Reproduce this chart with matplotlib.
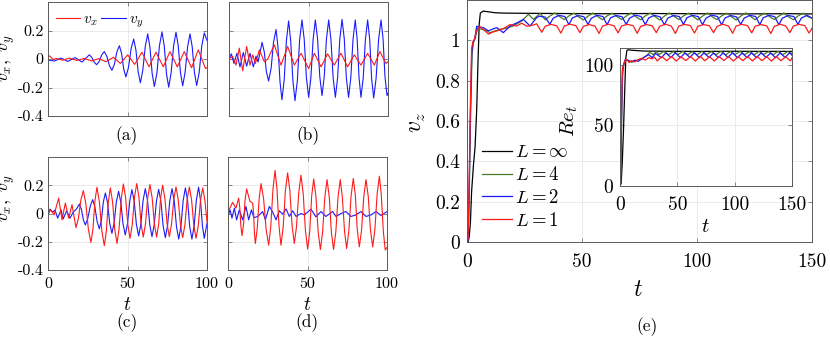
import matplotlib.pyplot as plt

plt.rcParams['mathtext.fontset'] = 'cm'
plt.rcParams['font.family'] = 'cmr10'
plt.rcParams['axes.formatter.use_mathtext'] = True

W, H = 830, 338

# ---- panel (a) ----
ta_vx = [0, 0.9, 3.5, 5.0, 9.2, 13.4, 18.2, 22.8, 27.5, 31.9, 36.5, 41.1, 45.5, 50.1, 54.5,
         59.1, 63.5, 67.9, 72.5, 76.7, 81.3, 85.7, 90.3, 94.5, 99.1, 100]
vx_a = [0.012, 0.022, -0.005, 0.004, -0.008, 0.006, -0.010, 0.004, -0.014, 0.003, -0.019, 0.012,
        -0.031, 0.029, -0.038, 0.048, -0.055, 0.048, -0.055, 0.052, -0.055, 0.052, -0.062, 0.064,
        -0.067, -0.06]
ta_vy = [0, 4.0, 8.2, 12.4, 17.0, 21.4, 26.0, 27.5, 29.1, 30.6, 32.2, 33.8, 35.4, 37.0, 38.6,
         40.2, 41.8, 43.3, 44.9, 46.3, 47.6, 49.0, 50.6, 52.3, 53.9, 55.3, 56.7, 58.1, 59.6, 61.2,
         62.7, 64.1, 65.5, 66.9, 68.5, 70.1, 71.7, 73.1, 74.5, 75.9, 77.4, 79.0, 80.5, 81.9, 83.3,
         84.7, 86.2, 87.8, 89.3, 90.7, 92.1, 93.5, 95.1, 96.7, 98.3, 100]
vy_a = [-0.007, -0.014, 0.007, -0.017, 0.010, -0.021, 0.029, 0.012, -0.023, -0.040, -0.017, 0.029,
        0.052, 0.019, -0.046, -0.079, -0.036, 0.050, 0.093, 0.038, -0.071, -0.126, -0.060, 0.074,
        0.140, 0.063, -0.090, -0.167, -0.081, 0.090, 0.176, 0.084, -0.101, -0.193, -0.097, 0.094,
        0.190, 0.093, -0.101, -0.198, -0.100, 0.092, 0.188, 0.094, -0.094, -0.188, -0.097, 0.085,
        0.176, 0.086, -0.096, -0.186, -0.094, 0.091, 0.183, 0.13]

# ---- panel (b) ----
tb_vx = [0, 2.3, 4.4, 6.5, 8.6, 11.1, 13.2, 14.9, 16.6, 19.1, 22.2, 24.3, 28.5, 32.7, 36.9, 41.1,
         45.3, 50.1, 53.7, 57.9, 62.0, 66.2, 70.4, 74.6, 78.8, 83.0, 87.2, 91.4, 94.9, 98.7, 100]
vx_b = [0.0, 0.017, -0.043, 0.076, -0.083, 0.088, -0.043, 0.029, -0.031, 0.064, -0.019, -0.002,
        0.100, -0.043, 0.088, -0.043, 0.040, -0.067, 0.040, -0.055, 0.036, -0.043, 0.040, -0.055,
        0.029, -0.043, 0.040, -0.043, 0.052, -0.031, -0.019]
tb_vy = [0, 1.5, 3.1, 5.0, 6.9, 9.0, 11.1, 13.2, 15.3, 17.0, 18.3, 20.8, 22.2, 23.5, 24.9, 26.5,
         28.0, 29.6, 30.8, 32.1, 33.3, 34.7, 36.1, 37.5, 38.8, 40.2, 41.5, 43.0, 44.4, 45.9, 47.3,
         48.7, 50.1, 51.5, 52.9, 54.3, 55.7, 57.1, 58.5, 59.9, 61.3, 62.7, 64.1, 65.5, 66.9, 68.3,
         69.7, 71.1, 72.5, 73.8, 75.2, 76.6, 78.0, 79.4, 80.6, 81.8, 83.0, 84.4, 85.8, 87.2, 88.5,
         89.7, 91.0, 92.5, 94.1, 95.6, 96.9, 98.1, 99.4, 100]
vy_b = [-0.002, 0.036, -0.031, 0.040, -0.055, 0.045, -0.050, 0.040, -0.055, 0.020, -0.020,
        0.117, 0.049, -0.087, -0.155, -0.065, 0.117, 0.207, 0.084, -0.163, -0.286, -0.148, 0.129,
        0.267, 0.127, -0.153, -0.293, -0.151, 0.132, 0.274, 0.138, -0.133, -0.269, -0.133, 0.138,
        0.274, 0.141, -0.124, -0.257, -0.124, 0.141, 0.274, 0.138, -0.133, -0.269, -0.132, 0.141,
        0.278, 0.141, -0.132, -0.269, -0.133, 0.138, 0.274, 0.138, -0.133, -0.269, -0.133, 0.138,
        0.274, 0.137, -0.137, -0.274, -0.137, 0.137, 0.274, 0.141, -0.124, -0.257, -0.24]

# ---- panel (c) ----
tc_vx = [0, 1.7, 3.8, 6.7, 8.8, 10.9, 13.0, 15.1, 17.6, 19.1, 20.7, 22.2, 23.8, 25.4, 27.0, 28.3,
         29.5, 30.8, 32.3, 33.9, 35.4, 36.7, 37.9, 39.2, 40.6, 42.0, 43.4, 44.7, 46.1, 47.4, 48.8,
         50.2, 51.6, 53.0, 54.4, 55.8, 57.2, 58.5, 59.9, 61.3, 62.7, 64.1, 65.5, 66.9, 68.3, 69.6,
         70.8, 72.1, 73.5, 74.9, 76.3, 77.7, 79.1, 80.5, 81.9, 83.3, 84.7, 86.1, 87.5, 88.9, 90.3,
         91.7, 93.1, 94.5, 95.9, 97.3, 98.7, 100]
vx_c = [-0.005, 0.026, -0.010, 0.109, -0.045, 0.074, -0.033, 0.062, -0.100, -0.035, 0.097, 0.162,
        0.070, -0.113, -0.205, -0.107, 0.088, 0.186, 0.083, -0.125, -0.228, -0.126, 0.079, 0.181,
        0.083, -0.114, -0.212, -0.107, 0.104, 0.209, 0.113, -0.080, -0.176, -0.079, 0.115, 0.212,
        0.117, -0.072, -0.167, -0.074, 0.112, 0.205, 0.112, -0.074, -0.167, -0.075, 0.108, 0.200,
        0.109, -0.073, -0.164, -0.076, 0.100, 0.188, 0.098, -0.081, -0.171, -0.081, 0.098, 0.188,
        0.097, -0.085, -0.176, -0.087, 0.092, 0.181, 0.092, -0.06]
tc_vy = [0, 1.3, 2.9, 4.4, 6.1, 8.2, 9.6, 11.7, 13.8, 15.9, 18.0, 19.7, 21.0, 22.2, 23.5, 25.0,
         26.6, 28.1, 29.5, 30.9, 32.3, 33.6, 34.8, 36.1, 37.5, 38.8, 40.2, 41.6, 43.0, 44.4, 45.8,
         47.2, 48.6, 50.0, 51.4, 52.8, 54.2, 55.6, 57.0, 58.4, 59.8, 61.2, 62.6, 64.0, 65.4, 66.8,
         68.2, 69.6, 71.0, 72.4, 73.8, 75.2, 76.6, 78.0, 79.4, 80.8, 82.2, 83.6, 85.0, 86.4, 87.8,
         89.1, 90.5, 91.9, 93.3, 94.7, 95.9, 97.1, 98.3, 100]
vy_c = [-0.010, 0.031, 0.010, 0.024, -0.033, 0.026, -0.038, 0.019, -0.033, 0.010, 0.033, 0.067,
        0.030, -0.044, -0.081, -0.036, 0.053, 0.098, 0.046, -0.057, -0.109, -0.046, 0.082, 0.145,
        0.074, -0.069, -0.140, -0.066, 0.083, 0.157, 0.080, -0.075, -0.152, -0.072, 0.089, 0.169,
        0.087, -0.077, -0.159, -0.075, 0.092, 0.176, 0.091, -0.079, -0.164, -0.080, 0.087, 0.171,
        0.086, -0.086, -0.171, -0.084, 0.089, 0.176, 0.087, -0.092, -0.181, -0.091, 0.091, 0.181,
        0.091, -0.091, -0.181, -0.089, 0.094, 0.186, 0.096, -0.086, -0.176, -0.07]

# ---- panel (d) ----
td_vx = [0, 2.9, 5.0, 6.7, 7.4, 8.1, 8.8, 9.8, 10.7, 11.7, 13.8, 15.5, 16.1, 16.6, 17.2, 18.4,
         19.6, 20.8, 22.4, 24.0, 25.6, 26.9, 28.3, 29.6, 30.8, 32.1, 33.3, 34.7, 36.1, 37.5, 38.9,
         40.3, 41.7, 43.1, 44.5, 45.9, 47.3, 48.7, 50.1, 51.4, 52.6, 53.9, 55.3, 56.7, 58.1, 59.5,
         60.9, 62.3, 63.7, 65.0, 66.4, 67.8, 69.2, 70.6, 71.9, 73.3, 74.6, 76.0, 77.4, 78.8, 80.1,
         81.3, 82.6, 84.0, 85.4, 86.8, 88.2, 89.6, 91.0, 92.4, 93.8, 95.2, 96.4, 97.7, 98.9, 100]
vx_d = [0.010, 0.079, 0.038, 0.109, 0.043, -0.090, -0.157, -0.074, 0.091, 0.174, 0.086, 0.074,
        0.003, -0.140, -0.212, -0.106, 0.106, 0.212, 0.103, -0.115, -0.224, -0.092, 0.173, 0.305,
        0.173, -0.092, -0.224, -0.096, 0.160, 0.288, 0.163, -0.087, -0.212, -0.091, 0.150, 0.271,
        0.140, -0.121, -0.252, -0.128, 0.121, 0.245, 0.120, -0.130, -0.255, -0.131, 0.116, 0.240,
        0.116, -0.131, -0.255, -0.131, 0.116, 0.240, 0.118, -0.126, -0.248, -0.124, 0.124, 0.248,
        0.127, -0.115, -0.236, -0.117, 0.121, 0.240, 0.121, -0.117, -0.236, -0.111, 0.139, 0.264,
        0.133, -0.128, -0.259, -0.24]
td_vy = [0, 1.3, 2.5, 4.0, 5.4, 7.1, 9.2, 11.3, 13.0, 14.7, 16.3, 18.7, 21.8, 23.5, 26.0, 28.1,
         30.2, 32.3, 34.4, 36.5, 38.6, 40.7, 42.8, 45.9, 48.0, 52.2, 55.3, 58.5, 61.6, 65.8, 67.9,
         71.1, 74.2, 77.3, 80.5, 83.6, 86.8, 89.9, 93.1, 96.2, 100]
vy_d = [-0.021, 0.026, -0.033, 0.038, -0.045, 0.026, -0.045, 0.050, -0.045, 0.026, -0.029, -0.021,
        0.014, -0.045, 0.050, 0.010, -0.045, 0.019, -0.005, 0.033, -0.021, 0.019, -0.021, 0.0,
        -0.010, 0.031, -0.024, 0.014, -0.021, 0.014, -0.021, 0.0, 0.014, -0.021, -0.010, 0.014,
        -0.021, -0.010, 0.014, -0.014, 0.014]

# ---- panel (e): v_z ----
te_inf = [0, 0.5, 1.0, 1.5, 2.0, 2.8, 3.5, 4.2, 4.8, 5.3, 5.8, 7.0, 9.0, 12, 16, 25, 40, 60, 80,
          100, 120, 140, 150]
vz_inf = [0, 0.0, 0.03, 0.1, 0.25, 0.38, 0.47, 0.65, 0.9, 1.08, 1.135, 1.145, 1.142, 1.137, 1.135,
          1.134, 1.133, 1.132, 1.133, 1.132, 1.131, 1.132, 1.131]

te_L4 = [0, 0.5, 1.0, 1.5, 2.2, 2.8, 3.6, 4.5, 6.4, 8.0, 10.0, 14.4, 17.0, 20.1, 23.8, 26.7, 28.9,
         31.8, 34.0, 36.0, 38.2, 40.2, 42.3, 44.3, 46.5, 48.5, 50.6, 52.6, 54.8, 56.8, 58.9, 60.9,
         63.1, 65.1, 67.2, 69.2, 71.4, 73.4, 75.5, 77.5, 79.7, 81.7, 83.8, 85.8, 88.0, 90.0, 92.1,
         94.1, 96.3, 98.3, 100.4, 102.4, 104.6, 106.6, 108.7, 110.7, 112.9, 114.9, 117.0, 119.0,
         121.2, 123.2, 125.3, 127.3, 129.5, 131.5, 133.6, 135.6, 137.8, 139.8, 141.9, 143.9, 146.1,
         148.1, 150]
vz_L4 = [0, 0.01, 0.25, 0.6, 0.93, 0.99, 1.01, 1.06, 1.055, 1.05, 1.038, 1.055, 1.06, 1.071, 1.096,
         1.129, 1.104, 1.134, 1.102, 1.120, 1.136, 1.118, 1.103, 1.121, 1.135, 1.117, 1.101, 1.120,
         1.136, 1.118, 1.102, 1.121, 1.135, 1.119, 1.103, 1.120, 1.136, 1.117, 1.102, 1.121, 1.135,
         1.118, 1.101, 1.120, 1.136, 1.119, 1.103, 1.121, 1.135, 1.118, 1.102, 1.120, 1.136, 1.117,
         1.103, 1.121, 1.135, 1.118, 1.101, 1.120, 1.136, 1.119, 1.102, 1.121, 1.135, 1.118, 1.103,
         1.120, 1.136, 1.117, 1.102, 1.121, 1.135, 1.118, 1.110]

te_L2 = [0, 0.5, 1.0, 1.5, 2.1, 2.7, 3.4, 4.2, 5.5, 7.1, 9.3, 11.0, 12.9, 15.8, 18.7, 22.3, 24.5,
         27.4, 30.3, 31.5, 34.0, 36.0, 37.5, 40.0, 42.5, 44.3, 45.8, 48.3, 50.8, 52.6, 54.1, 56.6,
         59.1, 60.9, 62.4, 64.9, 67.4, 69.2, 70.7, 73.2, 75.7, 77.5, 79.0, 81.5, 84.0, 85.8, 87.3,
         89.8, 92.3, 94.1, 95.6, 98.1, 100.6, 102.4, 103.9, 106.4, 108.9, 110.7, 112.2, 114.7, 117.2,
         119.0, 120.5, 123.0, 125.5, 127.3, 128.8, 131.3, 133.8, 135.6, 137.1, 139.6, 142.1, 143.9,
         145.4, 147.9, 150]
vz_L2 = [0, 0.01, 0.3, 0.65, 0.95, 0.99, 1.01, 1.07, 1.065, 1.063, 1.047, 1.055, 1.063, 1.038,
         1.071, 1.09, 1.104, 1.071, 1.113, 1.120, 1.115, 1.080, 1.110, 1.124, 1.118, 1.078, 1.111,
         1.123, 1.117, 1.079, 1.110, 1.124, 1.118, 1.077, 1.112, 1.123, 1.117, 1.079, 1.110, 1.125,
         1.118, 1.078, 1.111, 1.124, 1.116, 1.077, 1.110, 1.123, 1.118, 1.079, 1.112, 1.124, 1.117,
         1.078, 1.110, 1.125, 1.118, 1.077, 1.111, 1.123, 1.116, 1.079, 1.110, 1.124, 1.118, 1.078,
         1.112, 1.124, 1.117, 1.077, 1.110, 1.123, 1.118, 1.079, 1.111, 1.124, 1.110]

te_L1 = [0, 0.5, 1.0, 1.5, 2.0, 2.6, 3.2, 4.0, 4.9, 5.7, 7.5, 9.3, 11.0, 12.9, 15.8, 18.7, 21.6,
         23.8, 26.0, 28.5, 30.3, 32.5, 34.0, 36.5, 39.0, 40.8, 42.3, 44.8, 47.3, 49.1, 50.6, 53.1,
         55.6, 57.4, 58.9, 61.4, 63.9, 65.7, 67.2, 69.7, 72.2, 74.0, 75.5, 78.0, 80.5, 82.3, 83.8,
         86.3, 88.8, 90.6, 92.1, 94.6, 97.1, 98.9, 100.4, 102.9, 105.4, 107.2, 108.7, 111.2, 113.7,
         115.5, 117.0, 119.5, 122.0, 123.8, 125.3, 127.8, 130.3, 132.1, 133.6, 136.1, 138.6, 140.4,
         141.9, 144.4, 146.9, 148.7, 150]
vz_L1 = [0, 0.02, 0.35, 0.7, 0.96, 0.995, 1.005, 1.04, 1.063, 1.068, 1.05, 1.031, 1.04, 1.047,
         1.058, 1.078, 1.071, 1.085, 1.07, 1.075, 1.082, 1.040, 1.070, 1.079, 1.072, 1.036, 1.071,
         1.080, 1.073, 1.038, 1.069, 1.078, 1.071, 1.034, 1.070, 1.080, 1.072, 1.037, 1.071, 1.079,
         1.073, 1.035, 1.069, 1.078, 1.072, 1.038, 1.070, 1.080, 1.071, 1.034, 1.071, 1.079, 1.073,
         1.036, 1.070, 1.078, 1.072, 1.038, 1.069, 1.080, 1.071, 1.035, 1.071, 1.079, 1.073, 1.037,
         1.070, 1.078, 1.072, 1.034, 1.069, 1.080, 1.071, 1.038, 1.071, 1.079, 1.073, 1.036, 1.060]

# ---- inset: Re_t ----
ti_inf = [0, 1, 2, 3, 4, 5, 6, 7, 10, 20, 40, 70, 100, 130, 150]
re_inf = [0, 2, 20, 45, 75, 105, 112, 112.5, 112.2, 111.5, 111.3, 111.2, 111.3, 111.2, 111.2]
ti_L4 = [0, 0.5, 1.0, 1.6, 2.3, 3.2, 5, 8, 11, 15, 19, 23, 26, 29, 31.8, 34.0, 38.2, 42.3, 46.5,
         50.6, 54.8, 58.9, 63.1, 67.2, 71.4, 75.5, 79.7, 83.8, 88.0, 92.1, 96.3, 100.4, 104.6, 108.7,
         112.9, 117.0, 121.2, 125.3, 129.5, 133.6, 137.8, 141.9, 146.1, 150]
re_L4 = [0, 3, 30, 65, 92, 100, 104, 103, 102.5, 104, 105, 107.5, 110.5, 108.5, 111, 108.5, 111.2,
         108.4, 111, 108.6, 111.2, 108.5, 111, 108.4, 111.2, 108.6, 111, 108.5, 111.2, 108.4, 111,
         108.6, 111.2, 108.5, 111, 108.4, 111.2, 108.6, 111, 108.5, 111.2, 108.4, 111, 109.5]
ti_L2 = [0, 0.5, 1.0, 1.6, 2.2, 3.0, 4.5, 7, 10, 13, 16, 19, 22, 25, 28, 31, 36.0, 40.1, 44.3,
         48.4, 52.6, 56.7, 60.9, 65.0, 69.2, 73.3, 77.5, 81.6, 85.8, 89.9, 94.1, 98.2, 102.4, 106.5,
         110.7, 114.8, 119.0, 123.1, 127.3, 131.4, 135.6, 139.7, 143.9, 148.0, 150]
re_L2 = [0, 3, 35, 70, 95, 100, 104.5, 104, 102.5, 104, 103, 105, 107, 108.5, 106, 109.5, 106, 110,
         106.2, 110, 106, 109.8, 106.3, 110, 106, 110, 106.2, 109.8, 106, 110, 106.3, 110, 106, 109.8,
         106.2, 110, 106, 110, 106.3, 109.8, 106, 110, 106.2, 110, 108]
ti_L1 = [0, 0.5, 1.0, 1.5, 2.1, 2.8, 4.5, 6, 8, 10, 13, 16, 19, 22, 25, 28, 30, 32.5, 36.5, 40.8,
         44.9, 49.1, 53.2, 57.4, 61.5, 65.7, 69.8, 74.0, 78.1, 82.3, 86.4, 90.6, 94.7, 98.9, 103.0,
         107.2, 111.3, 115.5, 119.6, 123.8, 127.9, 132.1, 136.2, 140.4, 144.5, 148.7, 150]
re_L1 = [0, 5, 40, 75, 97, 99, 104, 104.5, 102, 103.5, 102.5, 104.5, 105.5, 104, 106, 105, 106.5,
         103.3, 107, 103.5, 107, 103.2, 106.8, 103.6, 107, 103.2, 107.2, 103.5, 106.8, 103.3, 107,
         103.6, 107, 103.2, 106.8, 103.5, 107, 103.3, 107, 103.5, 106.8, 103.2, 107, 103.5, 106.8,
         103.3, 106]

RED = '#ff1a1a'
BLUE = '#1a1aff'
GREEN = '#4a7a22'
BOX = '#5a5a5a'
GRID = '#e8e8e8'


def px_axes(left, top, right, bottom):
    return [left / W, 1 - bottom / H, (right - left) / W, (bottom - top) / H]


def fig_text(x, y, s, size, rot=0):
    fig.text(x / W, 1 - y / H, s, fontsize=size, rotation=rot, ha='center', va='center')


def style(ax, xlim, ylim, xticks, yticks, xlabels, ylabels, fs, xpad, ypad):
    ax.set_xlim(xlim)
    ax.set_ylim(ylim)
    ax.set_xticks(xticks)
    ax.set_yticks(yticks)
    ax.set_xticklabels(xlabels, fontsize=fs)
    ax.set_yticklabels(ylabels, fontsize=fs)
    ax.grid(True, color=GRID, linewidth=0.6)
    ax.set_axisbelow(True)
    ax.tick_params(direction='in', length=3, width=0.5, color=BOX, top=True, right=True)
    ax.tick_params(axis='x', pad=xpad)
    ax.tick_params(axis='y', pad=ypad)
    for s in ax.spines.values():
        s.set_color(BOX)
        s.set_linewidth(0.7)


fig = plt.figure(figsize=(W / 100, H / 100), dpi=100)

small = [
    (px_axes(48, 2, 207, 116), ta_vx, vx_a, ta_vy, vy_a, False, True),
    (px_axes(229, 2, 388, 116), tb_vx, vx_b, tb_vy, vy_b, False, False),
    (px_axes(48, 157, 207, 270), tc_vx, vx_c, tc_vy, vy_c, True, True),
    (px_axes(228, 157, 387, 270), td_vx, vx_d, td_vy, vy_d, True, False),
]
yt = [-0.4, -0.2, 0, 0.2]
for i, (rect, tx, vx, ty, vy, show_x, show_y) in enumerate(small):
    ax = fig.add_axes(rect)
    ax.plot(ty, vy, color=BLUE, lw=0.8, label='$v_y$')
    ax.plot(tx, vx, color=RED, lw=0.8, label='$v_x$')
    style(ax, (0, 100), (-0.4, 0.4), [0, 50, 100], yt,
          ['0', '50', '100'] if show_x else [], ['-0.4', '-0.2', '0', '0.2'] if show_y else [],
          11.5, 5, 3)
    if i == 0:
        h, l = ax.get_legend_handles_labels()
        ax.legend(h[::-1], l[::-1], loc='upper left', ncol=2, frameon=False, fontsize=11,
                  handlelength=1.6, handletextpad=0.2, columnspacing=0.2,
                  borderaxespad=0.1, bbox_to_anchor=(0.0, 0.97))

# main panel (e)
ax = fig.add_axes(px_axes(467, 0, 812, 242))
ax.plot(te_inf, vz_inf, color='black', lw=0.9, label=r'$L=\infty$')
ax.plot(te_L4, vz_L4, color=GREEN, lw=0.9, label=r'$L=4$')
ax.plot(te_L2, vz_L2, color=BLUE, lw=0.9, label=r'$L=2$')
ax.plot(te_L1, vz_L1, color=RED, lw=0.9, label=r'$L=1$')
style(ax, (0, 150), (0, 1.2), [0, 50, 100, 150], [0, 0.2, 0.4, 0.6, 0.8, 1.0],
      ['0', '50', '100', '150'], ['0', '0.2', '0.4', '0.6', '0.8', '1'], 14, 8, 5)
ax.legend(loc='lower left', frameon=False, fontsize=13.5, handlelength=1.6,
          handletextpad=0.2, labelspacing=0.25, borderaxespad=0.2, bbox_to_anchor=(0.01, 0.005))

# inset
axi = fig.add_axes(px_axes(620, 48, 792, 186))
axi.set_facecolor('white')
axi.plot(ti_inf, re_inf, color='black', lw=0.9)
axi.plot(ti_L4, re_L4, color=GREEN, lw=0.9)
axi.plot(ti_L2, re_L2, color=BLUE, lw=0.9)
axi.plot(ti_L1, re_L1, color=RED, lw=0.9)
style(axi, (0, 150), (0, 114), [0, 50, 100, 150], [0, 50, 100],
      ['0', '50', '100', '150'], ['0', '50', '100'], 14, 7, 5)

# labels and captions
fig_text(8, 58, r'$v_x,\ v_y$', 13, 90)
fig_text(8, 198, r'$v_x,\ v_y$', 13, 90)
fig_text(127, 305, r'$t$', 14)
fig_text(307, 305, r'$t$', 14)
fig_text(127, 136, '(a)', 12.5)
fig_text(308, 136, '(b)', 12.5)
fig_text(127, 323, '(c)', 12.5)
fig_text(307, 323, '(d)', 12.5)
fig_text(647, 327, '(e)', 12.5)
fig_text(417, 122, r'$v_z$', 17, 90)
fig_text(638, 290, r'$t$', 17)
fig_text(569, 121, r'$Re_t$', 15, 90)
fig_text(705, 227, r'$t$', 15)

fig.savefig('out.png', dpi=100)
